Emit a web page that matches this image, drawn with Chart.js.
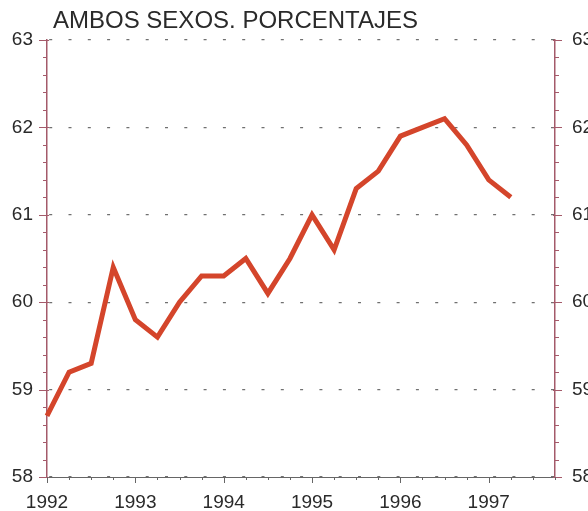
<!DOCTYPE html>
<html>
<head>
<meta charset="utf-8">
<script src="https://cdn.jsdelivr.net/npm/chart.js@4/dist/chart.umd.min.js"></script>
<style>
  html, body { margin: 0; padding: 0; background: #ffffff; }
  #wrap { width: 588px; height: 511px; position: relative; }
</style>
</head>
<body>
<div id="wrap"><canvas id="c" width="588" height="511"></canvas></div>
<script>
// Tasa trimestral, ambos sexos (%), desde 1992-I hasta 1997-II
const years = [1992, 1993, 1994, 1995, 1996, 1997];
const quarters = ['I', 'II', 'III', 'IV'];
const tasa = [58.7, 59.2, 59.3, 60.4, 59.8, 59.6, 60.0, 60.3, 60.3, 60.5, 60.1, 60.5,
              61.0, 60.6, 61.3, 61.5, 61.9, 62.0, 62.1, 61.8, 61.4, 61.2];
const yTicks = [58, 59, 60, 61, 62, 63];
const title = 'AMBOS SEXOS. PORCENTAJES';

// one category per quarter, 1992-I .. 1997-IV
const labels = [];
years.forEach(y => quarters.forEach(q => labels.push(q + ' ' + y)));

const axisRed = '#a45a6a';
const tickFont = { family: "'Liberation Sans', Arial, sans-serif", size: 19 };

// Small tick marks on every axis plus the heading text
const decor = {
  id: 'decor',
  afterDraw(chart) {
    const ctx = chart.ctx;
    const x = chart.scales.x, yl = chart.scales.y;
    const area = chart.chartArea;
    ctx.save();
    ctx.lineWidth = 1;
    // vertical axes: minor every 0.2, major on whole numbers
    const lo = yTicks[0], hi = yTicks[yTicks.length - 1];
    ctx.strokeStyle = axisRed;
    for (let k = 0; k <= (hi - lo) * 5; k++) {
      const v = lo + k * 0.2;
      const major = k % 5 === 0;
      const py = Math.round(yl.getPixelForValue(v)) + 0.5;
      const lx = area.left, rx = area.right;
      ctx.beginPath();
      if (major) { ctx.moveTo(lx - 8, py); ctx.lineTo(lx + 2, py); }
      else { ctx.moveTo(lx - 4, py); ctx.lineTo(lx, py); }
      if (major) { ctx.moveTo(rx - 2, py); ctx.lineTo(rx + 7, py); }
      else { ctx.moveTo(rx, py); ctx.lineTo(rx + 4, py); }
      ctx.stroke();
    }
    // horizontal axis: quarters short, years long
    ctx.strokeStyle = '#666';
    for (let i = 0; i < labels.length; i++) {
      const px = Math.round(x.getPixelForValue(i)) + 0.5;
      const len = i % 4 === 0 ? 6 : 3;
      ctx.beginPath();
      ctx.moveTo(px, area.bottom);
      ctx.lineTo(px, area.bottom + len);
      ctx.stroke();
    }
    // heading
    ctx.fillStyle = '#2a2a2a';
    ctx.font = "24px 'Liberation Sans', Arial, sans-serif";
    ctx.textBaseline = 'alphabetic';
    ctx.textAlign = 'left';
    ctx.fillText(title, area.left + 6, 28);
    ctx.restore();
  }
};

new Chart(document.getElementById('c'), {
  type: 'line',
  data: {
    labels: labels,
    datasets: [{
      data: tasa,
      borderColor: '#d4452b',
      borderWidth: 5,
      pointRadius: 0,
      tension: 0,
      fill: false,
      borderJoinStyle: 'miter',
      yAxisID: 'y'
    }]
  },
  options: {
    responsive: false,
    animation: false,
    layout: { padding: { top: 40, left: 0, right: 0, bottom: 0 } },
    plugins: { legend: { display: false }, tooltip: { enabled: false }, title: { display: false } },
    scales: {
      x: {
        type: 'category',
        offset: false,
        grid: { display: true, drawOnChartArea: false, drawTicks: false },
        border: { display: true, color: '#666', width: 1 },
        ticks: {
          autoSkip: false,
          maxRotation: 0,
          padding: 14,
          color: '#2a2a2a',
          font: tickFont,
          callback: (v, i) => (i % 4 === 0 ? String(years[i / 4]) : '')
        },
        afterFit(s) { s.height = 34; }
      },
      y: {
        position: 'left',
        min: yTicks[0],
        max: yTicks[yTicks.length - 1],
        afterBuildTicks(s) { s.ticks = yTicks.map(v => ({ value: v })); },
        grid: { color: '#707070', lineWidth: 1.3, drawTicks: false },
        border: { display: true, color: axisRed, width: 1.5, dash: [3, 16.3], dashOffset: 17.6 },
        ticks: { padding: 14, color: '#2a2a2a', font: tickFont },
        afterFit(s) { s.width = 47; }
      },
      y2: {
        position: 'right',
        min: yTicks[0],
        max: yTicks[yTicks.length - 1],
        afterBuildTicks(s) { s.ticks = yTicks.map(v => ({ value: v })); },
        grid: { drawOnChartArea: false, drawTicks: false },
        border: { display: true, color: axisRed, width: 1.5 },
        ticks: { padding: 17, color: '#2a2a2a', font: tickFont },
        afterFit(s) { s.width = 33; }
      }
    }
  },
  plugins: [decor]
});
</script>
</body>
</html>
